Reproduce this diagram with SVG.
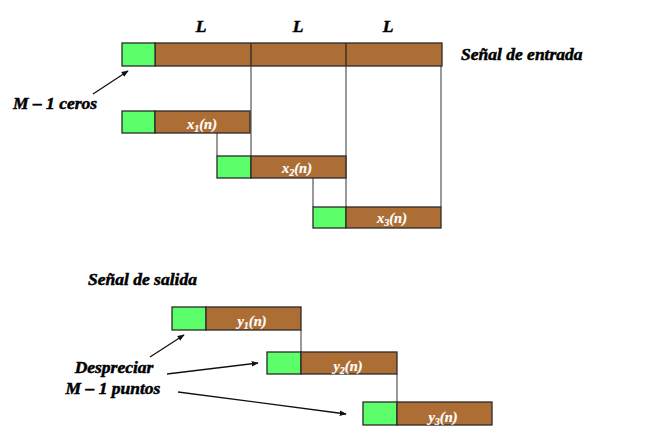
<svg xmlns="http://www.w3.org/2000/svg" width="652" height="442" viewBox="0 0 652 442">
  <defs>
    <marker id="arrow" viewBox="0 0 10 10" refX="9" refY="5" markerWidth="7" markerHeight="7" orient="auto" markerUnits="userSpaceOnUse">
      <path d="M0,1 L10,5 L0,9 z" fill="#111"/>
    </marker>
    <style>
      .pad { fill: #5cff6a; stroke: #2a2a2a; stroke-width: 1.3; }
      .blk { fill: #ad6e36; stroke: #2a2a2a; stroke-width: 1.3; }
      .guide { stroke: #555; stroke-width: 1.2; fill: none; }
      .ptr { stroke: #111; stroke-width: 1.3; fill: none; marker-end: url(#arrow); }
      .title { font-family: "Liberation Serif", "Times New Roman", serif; font-weight: bold; font-style: italic; font-size: 17.5px; fill: #000; stroke: #000; stroke-width: 0.5; }
      .lbl { font-family: "Liberation Serif", "Times New Roman", serif; font-weight: bold; font-style: italic; font-size: 14.5px; fill: #fff; stroke: #fff; stroke-width: 0.2; text-anchor: middle; }
      .sub { font-size: 10px; }
    </style>
  </defs>
  <rect width="652" height="442" fill="#fff"/>

  <!-- guide lines between blocks -->
  <g id="connectors">
    <line class="guide" x1="251" y1="66" x2="251" y2="156"/>
    <line class="guide" x1="346" y1="66" x2="346" y2="207"/>
    <line class="guide" x1="441" y1="66" x2="441" y2="207"/>
    <line class="guide" x1="217" y1="133" x2="217" y2="156"/>
    <line class="guide" x1="313" y1="178" x2="313" y2="207"/>
    <line class="guide" x1="301" y1="330" x2="301" y2="352"/>
    <line class="guide" x1="397" y1="374" x2="397" y2="402"/>
    <line class="ptr" x1="93" y1="94" x2="128" y2="71"/>
    <line class="ptr" x1="150" y1="357" x2="184" y2="335"/>
    <line class="ptr" x1="167" y1="374" x2="258" y2="363"/>
    <line class="ptr" x1="178" y1="392" x2="346" y2="414"/>
  </g>

  <!-- input signal -->
  <g id="input">
    <rect class="blk" x="155" y="43" width="287" height="23"/>
    <rect class="pad" x="122" y="43" width="33" height="23"/>
    <line x1="251" y1="43" x2="251" y2="66" stroke="#2a2a2a" stroke-width="1.3"/>
    <line x1="346" y1="43" x2="346" y2="66" stroke="#2a2a2a" stroke-width="1.3"/>
    <text class="title" x="201" y="32" text-anchor="middle">L</text>
    <text class="title" x="298" y="32" text-anchor="middle">L</text>
    <text class="title" x="388" y="32" text-anchor="middle">L</text>
    <text class="title" x="461" y="60">Señal de entrada</text>
  </g>

  <g id="zeros-note">
    <text class="title" x="13" y="109">M – 1 ceros</text>
  </g>

  <!-- input blocks -->
  <g id="x1">
    <rect class="pad" x="122" y="111" width="33" height="22"/>
    <rect class="blk" x="155" y="111" width="95" height="22"/>
    <text class="lbl" x="202" y="129">x<tspan class="sub" dy="3">1</tspan><tspan dy="-3">(n)</tspan></text>
  </g>
  <g id="x2">
    <rect class="pad" x="217" y="156" width="34" height="22"/>
    <rect class="blk" x="251" y="156" width="95" height="22"/>
    <text class="lbl" x="297" y="173">x<tspan class="sub" dy="3">2</tspan><tspan dy="-3">(n)</tspan></text>
  </g>
  <g id="x3">
    <rect class="pad" x="313" y="207" width="33" height="21"/>
    <rect class="blk" x="346" y="207" width="95" height="21"/>
    <text class="lbl" x="392" y="223">x<tspan class="sub" dy="3">3</tspan><tspan dy="-3">(n)</tspan></text>
  </g>

  <!-- output signal -->
  <g id="output-title">
    <text class="title" x="88" y="285">Señal de salida</text>
  </g>
  <g id="y1">
    <rect class="pad" x="172" y="307" width="34" height="23"/>
    <rect class="blk" x="206" y="307" width="95" height="23"/>
    <text class="lbl" x="252" y="326">y<tspan class="sub" dy="3">1</tspan><tspan dy="-3">(n)</tspan></text>
  </g>
  <g id="y2">
    <rect class="pad" x="267" y="352" width="34" height="22"/>
    <rect class="blk" x="301" y="352" width="96" height="22"/>
    <text class="lbl" x="348" y="371">y<tspan class="sub" dy="3">2</tspan><tspan dy="-3">(n)</tspan></text>
  </g>
  <g id="y3">
    <rect class="pad" x="363" y="402" width="34" height="23"/>
    <rect class="blk" x="397" y="402" width="95" height="23"/>
    <text class="lbl" x="443" y="422">y<tspan class="sub" dy="3">3</tspan><tspan dy="-3">(n)</tspan></text>
  </g>

  <g id="discard-note">
    <text class="title" x="114" y="373" text-anchor="middle">Despreciar</text>
    <text class="title" x="113" y="394" text-anchor="middle">M – 1 puntos</text>
  </g>
</svg>
